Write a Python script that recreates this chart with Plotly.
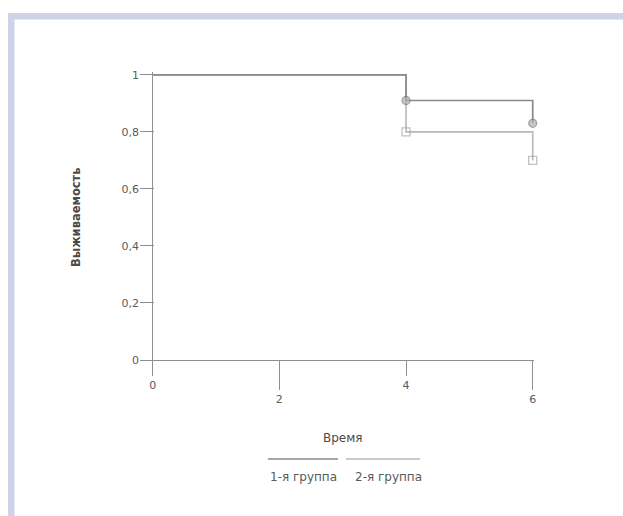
import plotly.graph_objects as go

# Data
time_g1 = [0, 4, 6]
surv_g1 = [1.0, 0.91, 0.83]
time_g2 = [0, 4, 6]
surv_g2 = [1.0, 0.80, 0.70]
x_ticks_short = [0, 4]
x_ticks_long = [2, 6]
y_ticks = [0, 0.2, 0.4, 0.6, 0.8, 1.0]
y_tick_labels = ["0", "0,2", "0,4", "0,6", "0,8", "1"]
series_names = ["1-я группа", "2-я группа"]

W, H = 623, 516
L, R, T, B = 140, 89, 72, 156
pw, ph = W - L - R, H - T - B

def px(x):
    return (x - L) / pw

def py(y):
    return (H - B - y) / ph

FONT = "DejaVu Sans, Verdana, sans-serif"
TXT = "#5a5a5a"
AX = "#8f8f8f"
C1 = "#8a8a8a"
C2 = "#b8b8b8"

fig = go.Figure()
fig.add_trace(go.Scatter(
    x=time_g2, y=surv_g2, mode="lines+markers", line_shape="hv",
    line=dict(color=C2, width=1.6),
    marker=dict(symbol="square-open", size=[0, 8, 8], color="#a5a5a5", line=dict(width=1.3)),
    cliponaxis=False, showlegend=False, name=series_names[1]))
fig.add_trace(go.Scatter(
    x=time_g1, y=surv_g1, mode="lines+markers", line_shape="hv",
    line=dict(color=C1, width=1.7),
    marker=dict(symbol="circle", size=[0, 8, 8], color="#b0b0b0", line=dict(color="#7f7f7f", width=1.3)),
    cliponaxis=False, showlegend=False, name=series_names[0]))

XR = [-0.2, 6.02]
fig.update_layout(
    xaxis=dict(range=XR, tickvals=x_ticks_short, ticktext=[str(v) for v in x_ticks_short],
               showgrid=False, zeroline=True, zerolinecolor=AX, zerolinewidth=1.4,
               showline=True, linecolor=AX, linewidth=1.4,
               ticks="outside", ticklen=15, tickcolor=AX, tickwidth=1.3,
               tickfont=dict(family=FONT, size=11, color=TXT)),
    xaxis2=dict(range=XR, overlaying="x", anchor="y", side="bottom",
                tickvals=x_ticks_long, ticktext=[str(v) for v in x_ticks_long],
                showgrid=False, zeroline=False, showline=False,
                ticks="outside", ticklen=29, tickcolor=AX, tickwidth=1.3,
                tickfont=dict(family=FONT, size=11, color=TXT)),
    yaxis=dict(range=[0, 1.01], tickvals=y_ticks, ticktext=y_tick_labels,
               showgrid=False, zeroline=False, showline=False,
               ticks="inside", ticklen=14, tickcolor=AX, tickwidth=1.3,
               tickfont=dict(family=FONT, size=11, color=TXT)),
)
# invisible trace to activate the second x axis
fig.add_trace(go.Scatter(x=[], y=[], xaxis="x2", yaxis="y", showlegend=False, hoverinfo="skip"))

shapes = [
    # frame border
    dict(type="rect", xref="paper", yref="paper", x0=px(8), x1=px(W + 5), y0=py(13), y1=py(19.5),
         fillcolor="#ced3e8", line=dict(width=0), layer="below"),
    dict(type="rect", xref="paper", yref="paper", x0=px(8), x1=px(14.5), y0=py(13), y1=py(H + 5),
         fillcolor="#ced3e8", line=dict(width=0), layer="below"),
    # legend samples
    dict(type="line", xref="paper", yref="paper", x0=px(268), x1=px(338), y0=py(459), y1=py(459),
         line=dict(color=C1, width=1.7)),
    dict(type="line", xref="paper", yref="paper", x0=px(346), x1=px(420), y0=py(459), y1=py(459),
         line=dict(color=C2, width=1.7)),
]
common = dict(xref="paper", yref="paper", showarrow=False, xanchor="center", yanchor="middle")
annotations = [
    dict(text="Время", x=px(343), y=py(438), font=dict(family=FONT, size=12, color="#4a4a4a"), **common),
    dict(text="<b>Выживаемость</b>", x=px(76), y=py(217), textangle=-90,
         font=dict(family=FONT, size=11.5, color="#4a4a4a"), **common),
    dict(text=series_names[0], x=px(303), y=py(477), font=dict(family=FONT, size=12, color=TXT), **common),
    dict(text=series_names[1], x=px(388), y=py(477), font=dict(family=FONT, size=12, color=TXT), **common),
]

fig.update_layout(width=W, height=H, margin=dict(l=L, r=R, t=T, b=B),
                  paper_bgcolor="white", plot_bgcolor="white",
                  shapes=shapes, annotations=annotations, showlegend=False)
fig.write_html("out.html")
